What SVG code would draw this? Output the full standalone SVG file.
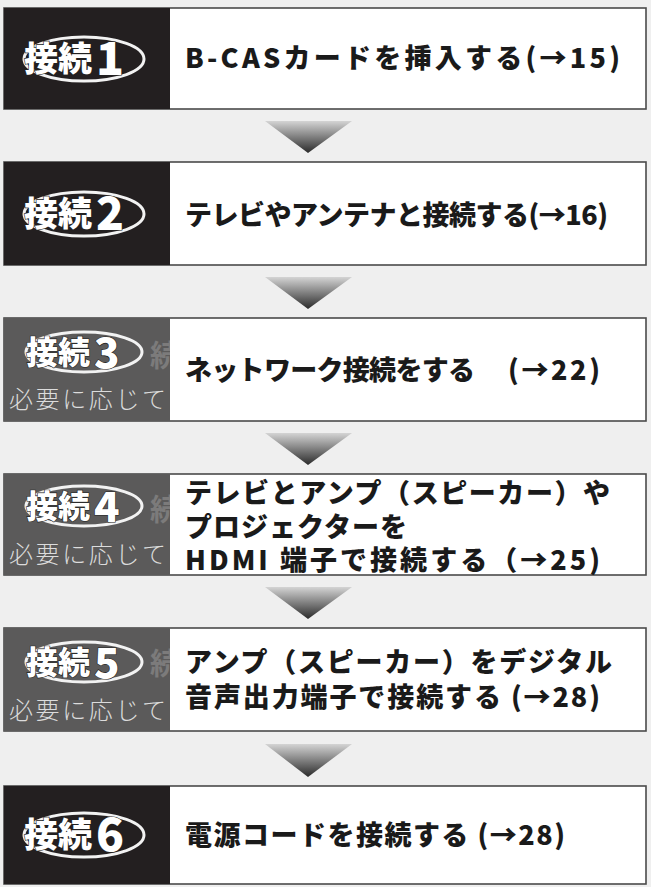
<svg xmlns="http://www.w3.org/2000/svg" width="651" height="887" viewBox="0 0 651 887">
<defs>
<linearGradient id="tg" x1="0" y1="0" x2="0" y2="1">
<stop offset="0" stop-color="#d4d4d4"/>
<stop offset="1" stop-color="#2a2a2a"/>
</linearGradient>
<style>
.box{fill:#ffffff;stroke:#4a4a4a;stroke-width:1.6}
.dark{fill:#231f20}
.gray{fill:#5b5a5a}
.t{font-family:"Noto Sans CJK JP","Noto Sans",sans-serif;font-weight:900;fill:#1a1a1a;font-size:27px}
.bk{font-family:"Noto Sans CJK JP",sans-serif;font-weight:900;fill:#ffffff;stroke:#222;stroke-width:1.2;paint-order:stroke}
.ell{fill:none;stroke:#f2f2f2;stroke-width:3}
.need{font-family:"Noto Sans CJK JP",sans-serif;font-weight:300;fill:#dcdcdc;font-size:24px}
.ghost{font-family:"Noto Sans CJK JP",sans-serif;font-weight:700;fill:#7c7b7b;font-size:30px}
.tri{fill:url(#tg)}
</style>
<clipPath id="c3"><rect x="4" y="318" width="166" height="103"/></clipPath>
<clipPath id="c4"><rect x="4" y="474" width="166" height="101"/></clipPath>
<clipPath id="c5"><rect x="4" y="628" width="166" height="103"/></clipPath>
</defs>
<rect x="0" y="0" width="651" height="887" fill="#efefef"/>

<g id="connectors">
<polygon class="tri" points="265,121 352,121 308,153"/>
<polygon class="tri" points="265,277 352,277 308,309"/>
<polygon class="tri" points="265,433 352,433 308,465"/>
<polygon class="tri" points="265,587 352,587 308,619"/>
<polygon class="tri" points="265,744 352,744 308,777"/>
</g>

<g id="step1">
<rect class="box" x="4" y="8" width="642" height="101"/>
<rect class="dark" x="4" y="8" width="166" height="101"/>
<ellipse class="ell" cx="84" cy="59" rx="60" ry="22"/>
<text class="bk" x="24" y="71" font-size="34">接続</text>
<text class="bk" x="96" y="75" font-size="46">1</text>
<text class="t" x="185" y="68" textLength="435" lengthAdjust="spacing">B-CASカードを挿入する(→15)</text>
</g>

<g id="step2">
<rect class="box" x="4" y="162" width="642" height="103"/>
<rect class="dark" x="4" y="162" width="166" height="103"/>
<ellipse class="ell" cx="84" cy="214" rx="60" ry="22"/>
<text class="bk" x="24" y="226" font-size="34">接続</text>
<text class="bk" x="96" y="230" font-size="46">2</text>
<text class="t" x="185" y="225" textLength="423" lengthAdjust="spacing">テレビやアンテナと接続する(→16)</text>
</g>

<g id="step3">
<rect class="box" x="4" y="318" width="642" height="103"/>
<rect class="gray" x="4" y="318" width="166" height="103"/>
<text class="ghost" x="150" y="366" clip-path="url(#c3)">続</text>
<ellipse class="ell" cx="84" cy="352" rx="58" ry="20"/>
<text class="bk" x="26" y="364" font-size="32">接続</text>
<text class="bk" x="94" y="368" font-size="42">3</text>
<text class="need" x="9" y="408" textLength="157" lengthAdjust="spacing">必要に応じて</text>
<text class="t" x="185" y="380" textLength="290" lengthAdjust="spacing">ネットワーク接続をする</text>
<text class="t" x="508" y="380" textLength="92" lengthAdjust="spacing">(→22)</text>
</g>

<g id="step4">
<rect class="box" x="4" y="474" width="642" height="101"/>
<rect class="gray" x="4" y="474" width="166" height="101"/>
<text class="ghost" x="150" y="520" clip-path="url(#c4)">続</text>
<ellipse class="ell" cx="84" cy="506" rx="58" ry="20"/>
<text class="bk" x="26" y="518" font-size="32">接続</text>
<text class="bk" x="94" y="522" font-size="42">4</text>
<text class="need" x="9" y="563" textLength="157" lengthAdjust="spacing">必要に応じて</text>
<text class="t" x="185" y="503" font-size="28" textLength="425" lengthAdjust="spacing">テレビとアンプ（スピーカー）や</text>
<text class="t" x="185" y="537" font-size="28" textLength="222" lengthAdjust="spacing">プロジェクターを</text>
<text class="t" x="185" y="570" font-size="28" textLength="415" lengthAdjust="spacing">HDMI 端子で接続する（→25)</text>
</g>

<g id="step5">
<rect class="box" x="4" y="628" width="642" height="103"/>
<rect class="gray" x="4" y="628" width="166" height="103"/>
<text class="ghost" x="150" y="674" clip-path="url(#c5)">続</text>
<ellipse class="ell" cx="84" cy="662" rx="58" ry="20"/>
<text class="bk" x="26" y="674" font-size="32">接続</text>
<text class="bk" x="94" y="678" font-size="42">5</text>
<text class="need" x="9" y="719" textLength="157" lengthAdjust="spacing">必要に応じて</text>
<text class="t" x="185" y="672" font-size="28" textLength="427" lengthAdjust="spacing">アンプ（スピーカー）をデジタル</text>
<text class="t" x="185" y="707" font-size="28" textLength="415" lengthAdjust="spacing">音声出力端子で接続する (→28)</text>
</g>

<g id="step6">
<rect class="box" x="4" y="786" width="642" height="98"/>
<rect class="dark" x="4" y="786" width="166" height="98"/>
<ellipse class="ell" cx="84" cy="835" rx="60" ry="22"/>
<text class="bk" x="24" y="847" font-size="34">接続</text>
<text class="bk" x="96" y="851" font-size="46">6</text>
<text class="t" x="185" y="845" textLength="380" lengthAdjust="spacing">電源コードを接続する (→28)</text>
</g>
</svg>
